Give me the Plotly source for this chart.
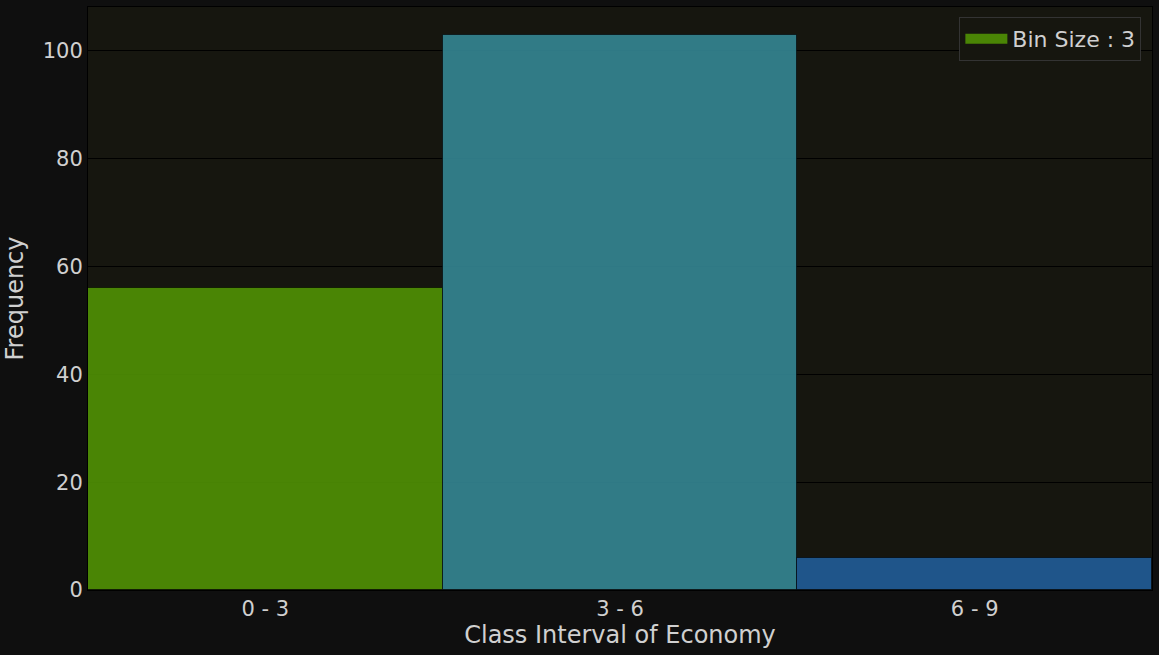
import plotly.graph_objects as go

bin_labels = ["0 - 3", "3 - 6", "6 - 9"]
bin_centers = [1.5, 4.5, 7.5]
frequencies = [56, 103, 6]
bin_width = 3
legend_label = "Bin Size : 3"
bar_colors = ["rgba(80,145,4,0.9)", "rgba(52,134,148,0.9)", "rgba(32,92,152,0.9)"]

fig = go.Figure()
fig.add_trace(go.Bar(
    x=bin_centers, y=frequencies, width=[bin_width]*3,
    marker=dict(color=bar_colors, line=dict(color="rgba(0,0,0,0.6)", width=1)),
    name=legend_label, showlegend=False,
))
# legend-only entry with a wide rectangular swatch
fig.add_trace(go.Scatter(
    x=[None], y=[None], mode="lines", name=legend_label,
    line=dict(color="#4a8505", width=14), showlegend=True,
))

fig.update_layout(
    width=1159, height=655,
    paper_bgcolor="#0f0f0f", plot_bgcolor="#16160f",
    margin=dict(l=88, r=7, t=7, b=65),
    font=dict(family="DejaVu Sans", size=21, color="#d0d0d0"),
    bargap=0,
    legend=dict(x=0.99, y=0.983, xanchor="right", yanchor="top",
                bgcolor="#16160f", bordercolor="#333333", borderwidth=1,
                itemwidth=42,
                font=dict(size=22, color="#d0d0d0")),
)
fig.update_xaxes(range=[0, 9], tickvals=bin_centers, ticktext=bin_labels,
                 showgrid=False, zeroline=False, showline=True, linecolor="black",
                 linewidth=1, mirror=True, ticks="", tickfont=dict(size=21),
                 title=dict(text="Class Interval of Economy", font=dict(size=24), standoff=4))
fig.update_yaxes(range=[0, 108.15], tickvals=[0, 20, 40, 60, 80, 100],
                 showgrid=True, gridcolor="black", gridwidth=1, zeroline=False,
                 showline=True, linecolor="black", linewidth=1, mirror=True, ticks="",
                 tickfont=dict(size=21),
                 title=dict(text="Frequency", font=dict(size=24), standoff=12))

fig.write_html("out.html", config={"displayModeBar": False},
               post_script="document.body.style.margin='0';")
